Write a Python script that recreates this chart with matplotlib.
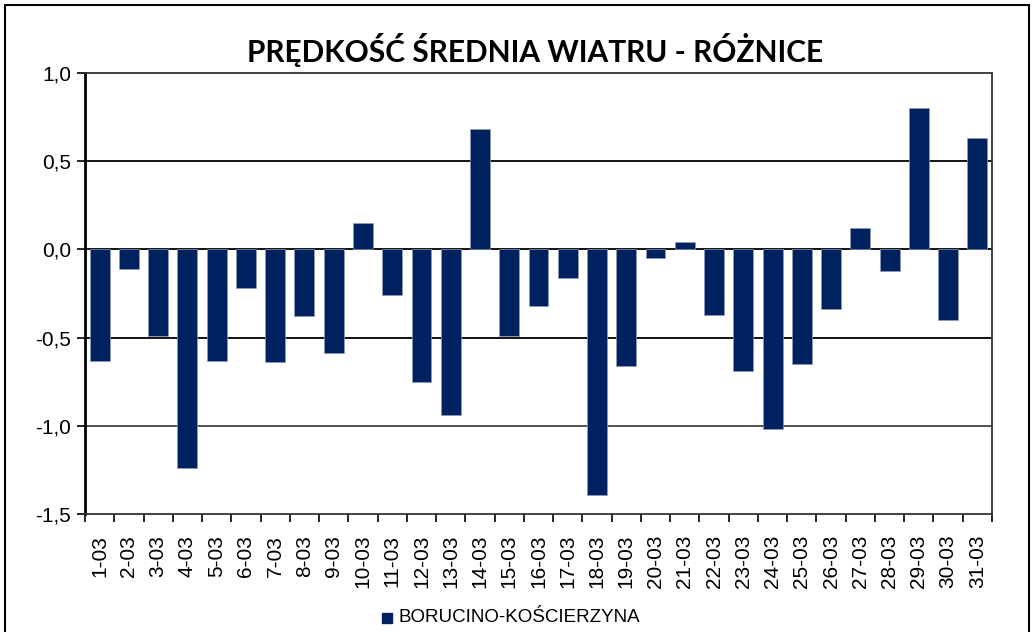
import matplotlib
matplotlib.use("Agg")
from matplotlib import pyplot as plt
from matplotlib.patches import Rectangle
from matplotlib.ticker import FixedLocator, FuncFormatter

days = [str(d) + '-03' for d in range(1, 32)]
roznice = [-0.63, -0.11, -0.49, -1.24, -0.63, -0.22, -0.64, -0.38, -0.59, 0.15,
           -0.26, -0.75, -0.94, 0.68, -0.49, -0.32, -0.16, -1.39, -0.66, -0.05,
           0.04, -0.37, -0.69, -1.02, -0.65, -0.34, 0.12, -0.12, 0.80, -0.40, 0.63]
yticks = [-1.5, -1.0, -0.5, 0.0, 0.5, 1.0]
title = 'PRĘDKOŚĆ ŚREDNIA WIATRU - RÓŻNICE'
series = 'BORUCINO-KOŚCIERZYNA'

plt.rcParams['font.family'] = ['Liberation Sans', 'DejaVu Sans']

fig = plt.figure(figsize=(10.36, 6.32), dpi=100)
ax = fig.add_axes([85/1036, 118/632, 907/1036, 441/632])

x = list(range(len(days)))
ax.bar(x, roznice, width=0.68, color='#00215f', edgecolor='#8f9cb8',
       linewidth=0.5, zorder=3, label=series)

ax.set_xlim(-0.5, len(days) - 0.5)
ax.set_ylim(-1.5, 1.0)

# grid lines
for v in yticks[1:-1]:
    c = '#444444' if v <= -1.0 else 'black'
    ax.axhline(v, color=c, lw=1.3, zorder=1)

ax.yaxis.set_major_locator(FixedLocator(yticks))
ax.yaxis.set_major_formatter(FuncFormatter(lambda v, p: ('%.1f' % v).replace('.', ',')))
ax.tick_params(axis='y', direction='out', length=6, width=1.2, labelsize=15, pad=4)

ax.set_xticks(x)
ax.set_xticklabels(days, rotation=90, fontsize=15)
ax.set_xticks([i + 0.5 for i in range(-1, len(days))], minor=True)
ax.tick_params(axis='x', which='major', length=0, pad=15)
ax.tick_params(axis='x', which='minor', direction='out', length=6, width=1.2)

for s in ['top', 'right', 'bottom']:
    ax.spines[s].set_color('#333333')
    ax.spines[s].set_linewidth(1.3)
ax.spines['left'].set_color('black')
ax.spines['left'].set_linewidth(2)

fig.text(535/1036, 1 - 50/632, title, ha='center', va='center',
         fontsize=21.5, fontweight='bold', family=['Lato', 'DejaVu Sans'])

# legend below
fig.patches.append(Rectangle((382/1036, 1 - 623/632), 10/1036, 10/632,
                             transform=fig.transFigure, color='#00215f'))
fig.text(399/1036, 1 - 618/632, series, ha='left', va='center', fontsize=13.5)

# outer border of the chart
fig.patches.append(Rectangle((5/1036, -0.05), 1024/1036, 1.05 - 5/632,
                             transform=fig.transFigure, fill=False,
                             edgecolor='black', lw=1.5))

fig.savefig('out.png', dpi=100)
